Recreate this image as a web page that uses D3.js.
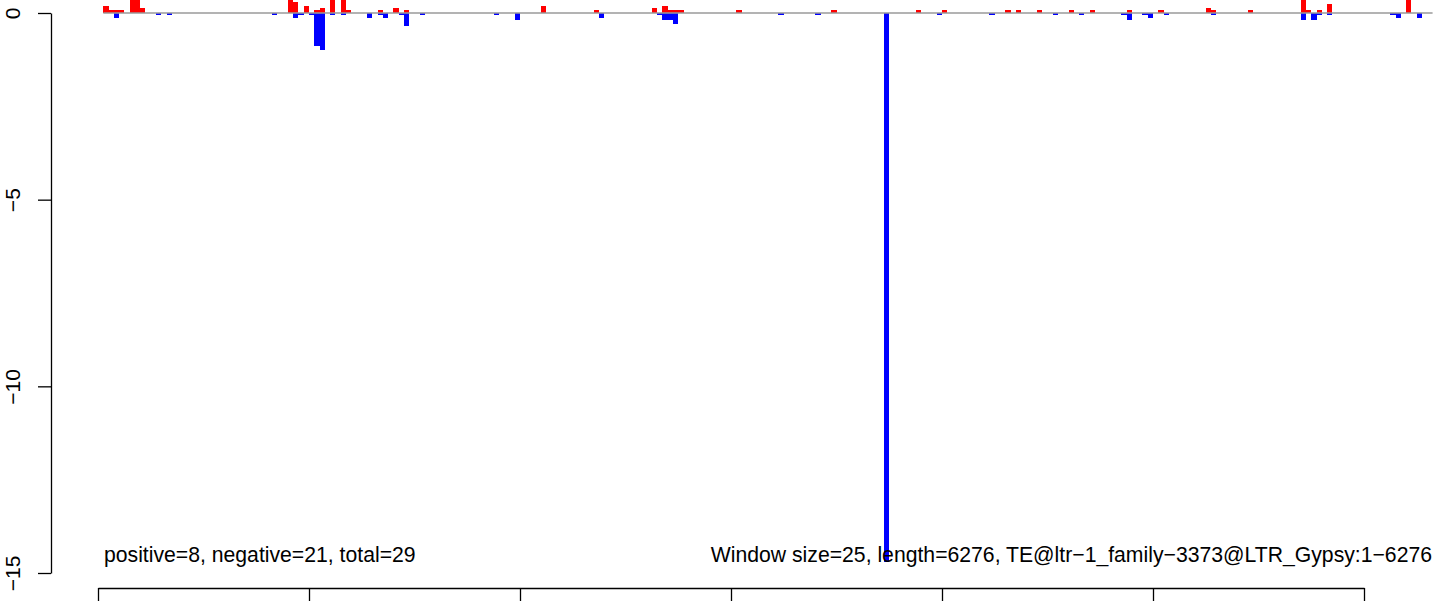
<!DOCTYPE html>
<html>
<head>
<meta charset="utf-8">
<script src="https://cdn.jsdelivr.net/npm/d3@7"></script>
<style>
  html, body { margin: 0; padding: 0; background: #fff; }
  svg { display: block; font-family: "Liberation Sans", Arial, Helvetica, sans-serif; }
</style>
</head>
<body>
<svg id="chart" width="1444" height="601"></svg>
<script>
// ---- data ----
const windowSize = 25;
const seqLength = 6276;
// window start positions (bp) and values for positive-strand signal
const posStart = [25, 50, 75, 100, 150, 175, 200, 900, 925, 975, 1025, 1050, 1100, 1150, 1175, 1325, 1400, 1450,
  2100, 2350, 2625, 2675, 2700, 2725, 2750, 3025, 3475, 3875, 4000, 4300, 4350, 4450, 4600, 4700, 4875, 5025,
  5250, 5275, 5450, 5700, 5725, 5775, 5825, 6200];
const posVal = [0.19, 0.08, 0.08, 0.08, 0.4, 0.4, 0.13, 0.4, 0.29, 0.19, 0.08, 0.13, 0.4, 0.4, 0.08, 0.08, 0.13, 0.08,
  0.19, 0.08, 0.13, 0.19, 0.08, 0.08, 0.08, 0.08, 0.08, 0.08, 0.08, 0.08, 0.08, 0.08, 0.08, 0.08, 0.08, 0.08,
  0.13, 0.08, 0.08, 0.4, 0.08, 0.08, 0.24, 0.4];
// window start positions (bp) and values for negative-strand signal
const negStart = [75, 275, 325, 825, 925, 950, 1000, 1025, 1050, 1100, 1150, 1275, 1325, 1350, 1425, 1450, 1525,
  1875, 1975, 2375, 2650, 2675, 2700, 2725, 3225, 3400, 3725, 3975, 4225, 4525, 4650, 4850, 4875, 4950, 4975,
  5050, 5275, 5700, 5750, 5775, 5825, 6125, 6150, 6250];
const negVal = [-0.13, -0.05, -0.05, -0.05, -0.13, -0.05, -0.05, -0.88, -0.99, -0.05, -0.05, -0.13, -0.05, -0.13,
  -0.05, -0.35, -0.05, -0.05, -0.18, -0.13, -0.05, -0.18, -0.18, -0.29, -0.05, -0.05, -14.7, -0.05, -0.05, -0.05,
  -0.05, -0.05, -0.18, -0.05, -0.13, -0.05, -0.05, -0.18, -0.18, -0.05, -0.05, -0.05, -0.13, -0.13];
const yTicks = [0, -5, -10, -15];
const xTicks = [0, 1000, 2000, 3000, 4000, 5000, 6000];
const baselineFrom = 25, baselineTo = 6325;
const leftLabel = "positive=8, negative=21, total=29";
const rightLabel = "Window size=25, length=6276, TE@ltr\u22121_family\u22123373@LTR_Gypsy:1\u22126276";

// ---- drawing ----
const svg = d3.select("#chart");
const x = d3.scaleLinear().domain([0, 6000]).range([98, 1364]);
const y = d3.scaleLinear().domain([0, -15]).range([13, 573]);

const pos = posStart.map((s, i) => ({ s, v: posVal[i] }));
const neg = negStart.map((s, i) => ({ s, v: negVal[i] }));

svg.append("g").selectAll("rect.pos").data(pos).join("rect")
  .attr("x", d => x(d.s)).attr("width", d => x(d.s + windowSize) - x(d.s))
  .attr("y", d => y(d.v)).attr("height", d => y(0) - y(d.v))
  .attr("fill", "#ff0000").attr("shape-rendering", "crispEdges");

svg.append("g").selectAll("rect.neg").data(neg).join("rect")
  .attr("x", d => x(d.s)).attr("width", d => x(d.s + windowSize) - x(d.s))
  .attr("y", y(0)).attr("height", d => y(d.v) - y(0))
  .attr("fill", "#0000ff").attr("shape-rendering", "crispEdges");

svg.append("line")
  .attr("x1", x(baselineFrom)).attr("x2", x(baselineTo))
  .attr("y1", y(0)).attr("y2", y(0))
  .attr("stroke", "#9a9a9a").attr("stroke-width", 1.3);

// y axis
const yAxis = svg.append("g").attr("transform", "translate(51,0)")
  .call(d3.axisLeft(y).tickValues(yTicks).tickSize(13).tickSizeOuter(0).tickFormat(d => d3.format("")(d).replace("-", "\u2212")));
yAxis.select(".domain").attr("stroke", "#000").attr("stroke-width", 1.3);
yAxis.selectAll(".tick line").attr("stroke", "#000").attr("stroke-width", 1.3);
yAxis.selectAll(".tick text")
  .attr("x", null).attr("dy", null)
  .attr("transform", "translate(-31,0) rotate(-90)")
  .attr("text-anchor", "middle")
  .attr("font-size", "21px").attr("fill", "#000")
  .attr("font-family", "Liberation Sans, Arial, sans-serif");

// x axis
const xAxis = svg.append("g").attr("transform", "translate(0,588)")
  .call(d3.axisBottom(x).tickValues(xTicks).tickSize(13).tickSizeOuter(0).tickFormat(""));
xAxis.select(".domain").attr("stroke", "#000").attr("stroke-width", 1.3);
xAxis.selectAll(".tick line").attr("stroke", "#000").attr("stroke-width", 1.3);

// annotations
svg.append("text").attr("x", 104).attr("y", 562)
  .attr("font-size", "21.2px").attr("fill", "#000").text(leftLabel);
svg.append("text").attr("x", 1432).attr("y", 562).attr("text-anchor", "end")
  .attr("font-size", "21.2px").attr("fill", "#000").text(rightLabel);
</script>
</body>
</html>
